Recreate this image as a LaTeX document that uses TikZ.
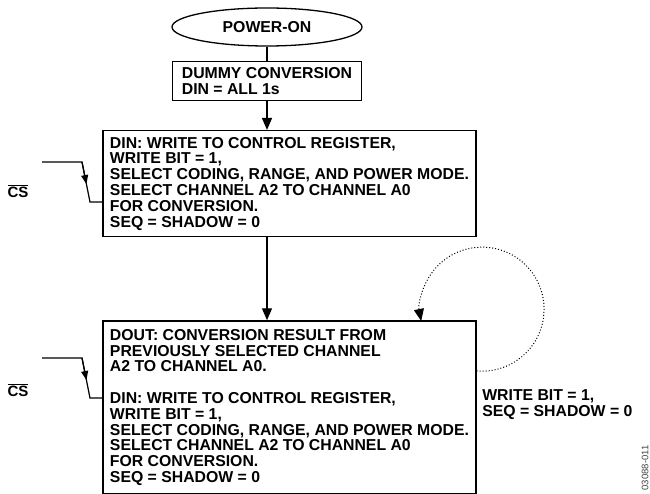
\documentclass[tikz,border=0pt]{standalone}
\usepackage{fontspec}
\setmainfont{Liberation Sans}
\usetikzlibrary{shapes.geometric}
\usetikzlibrary{positioning}
\usetikzlibrary{arrows.meta}
\usetikzlibrary{calc}

\begin{document}
\begin{tikzpicture}
		[x=1pt, y=1pt, line width=1.3pt, >={Triangle[length=12pt,width=10pt]},
		txt/.style = {font=\fontsize{15.8}{15.8}\selectfont\bfseries},
		start/.style = {draw, ellipse, txt, minimum width=190pt, minimum height=38pt, inner sep=0pt},
		small/.style = {draw, txt, align=left, minimum width=189pt, minimum height=39pt},
		big/.style = {draw, txt, align=left, minimum width=373pt},
		cs/.style = {font=\fontsize{15}{15}\selectfont\bfseries},
		sig/.style = {line width=1.2pt},
		sigarrow/.style = {-{Triangle[length=9pt,width=7pt]}},
		feedback/.style = {dotted, line width=1pt}]
	\useasboundingbox (0,0) rectangle (650,493);
	\node[start] (pwr) at (267,466) {POWER-ON};
	\node[small] (dummy) [below=14pt of pwr] {DUMMY CONVERSION\\DIN = ALL 1s};
	\node[big, minimum height=106pt] (din) [below=29pt of dummy, xshift=22.5pt]
		{DIN: WRITE TO CONTROL REGISTER,\\WRITE BIT = 1,\\SELECT CODING, RANGE, AND POWER MODE.\\SELECT CHANNEL A2 TO CHANNEL A0\\FOR CONVERSION.\\SEQ = SHADOW = 0};
	\node[big, minimum height=173pt] (dout) [below=83pt of din]
		{DOUT: CONVERSION RESULT FROM\\PREVIOUSLY SELECTED CHANNEL\\A2 TO CHANNEL A0.\\[15.8pt]DIN: WRITE TO CONTROL REGISTER,\\WRITE BIT = 1,\\SELECT CODING, RANGE, AND POWER MODE.\\SELECT CHANNEL A2 TO CHANNEL A0\\FOR CONVERSION.\\SEQ = SHADOW = 0};
	\node[txt, align=left, inner sep=0pt] (wlabel) [right=5pt of dout.east, yshift=2.5pt]
		{WRITE BIT = 1,\\SEQ = SHADOW = 0};
	\node[cs] (cs1) at (18,302) {$\overline{\hbox{CS}}$};
	\node[cs] (cs2) at (18,103) {$\overline{\hbox{CS}}$};
	\node[font=\fontsize{9.5}{9.5}\selectfont, text=black!75, rotate=90] (figid) at (645,25) {03088-011};
	% flow
	\draw (pwr) -- (dummy);
	\draw[->] (dummy) -- (dummy.south |- din.north);
	\draw[->] (dummy.south |- din.south) -- (dummy.south |- dout.north);
	\draw[feedback, ->] ([yshift=36.5pt]dout.east) arc[start angle=-95, end angle=191, radius=62pt];
	% chip select edges
	\coordinate (s1a) at (42,331);
	\coordinate (s1b) at (82,331);
	\coordinate (s1c) at (90,291);
	\draw[sig] (s1a) -- (s1b) -- (s1c) -- (s1c -| din.west);
	\draw[sig, sigarrow] (s1b) -- ($(s1b)!0.55!(s1c)$);
	\coordinate (s2a) at (42,135);
	\coordinate (s2b) at (82,135);
	\coordinate (s2c) at (90,95);
	\draw[sig] (s2a) -- (s2b) -- (s2c) -- (s2c -| dout.west);
	\draw[sig, sigarrow] (s2b) -- ($(s2b)!0.55!(s2c)$);
\end{tikzpicture}
\end{document}
